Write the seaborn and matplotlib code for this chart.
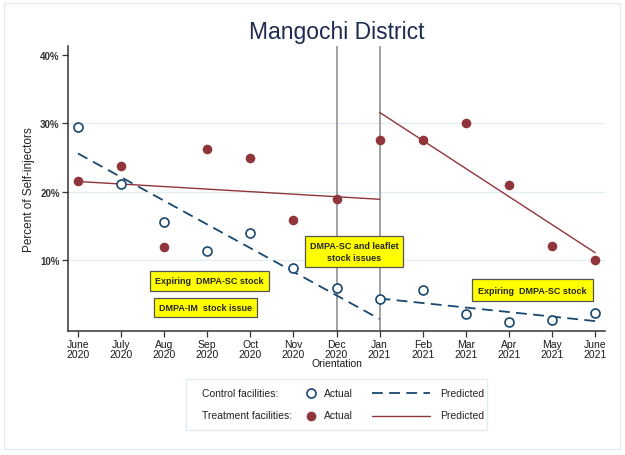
import pandas as pd
import matplotlib
matplotlib.use('Agg')
import matplotlib.pyplot as plt
from matplotlib.lines import Line2D
from matplotlib.patches import Rectangle
import seaborn as sns

# --- Data ---
months = ['June\n2020', 'July\n2020', 'Aug\n2020', 'Sep\n2020', 'Oct\n2020', 'Nov\n2020',
          'Dec\n2020\nOrientation', 'Jan\n2021', 'Feb\n2021', 'Mar\n2021', 'Apr\n2021',
          'May\n2021', 'June\n2021']
control_actual = [29.4, 21.2, 15.6, 11.4, 14.0, 8.8, 5.9, 4.3, 5.6, 2.1, 0.9, 1.2, 2.3]
treatment_actual = [21.5, 23.7, 11.9, 26.3, 24.9, 15.8, 18.9, 27.5, 27.6, 30.0, 21.0, 12.1, 10.0]

# predicted segments: month index of the ends, and values at those ends
seg_pre = [0, 7]
seg_post = [7, 12]
control_pred_pre = [25.6, 1.4]
control_pred_post = [4.4, 1.1]
treatment_pred_pre = [21.5, 18.9]
treatment_pred_post = [31.6, 11.1]
event_months = [6, 7]

NAVY = '#1a476f'
MAROON = '#90353b'
FONT = 'Liberation Sans'

W, H = 625, 456
def fx(px):
    return px / W
def fy(py):
    return 1 - py / H

sns.set_style('white')
plt.rcParams['font.family'] = [FONT, 'DejaVu Sans']

fig = plt.figure(figsize=(6.25, 4.56), dpi=100)
ax = fig.add_axes([fx(68), fy(332), fx(605) - fx(68), fy(47) - fy(332)])

# --- Long tables ---
idx = list(range(len(months)))
df_pts = pd.DataFrame({'m': idx * 2,
                       'val': control_actual + treatment_actual,
                       'grp': ['Control'] * len(idx) + ['Treatment'] * len(idx)})
df_pred = pd.DataFrame({
    'm': seg_pre + seg_post + seg_pre + seg_post,
    'val': control_pred_pre + control_pred_post + treatment_pred_pre + treatment_pred_post,
    'seg': ['c_pre'] * 2 + ['c_post'] * 2 + ['t_pre'] * 2 + ['t_post'] * 2,
})

for m in event_months:
    ax.axvline(m, color='#9a9a9a', lw=1.3, zorder=1)

for s, color, dash in [('c_pre', NAVY, True), ('c_post', NAVY, True),
                       ('t_pre', MAROON, False), ('t_post', MAROON, False)]:
    d = df_pred[df_pred['seg'] == s]
    line = sns.lineplot(data=d, x='m', y='val', ax=ax, color=color,
                        lw=1.3 if dash else 1.0, zorder=3)
    if dash:
        ax.lines[-1].set_dashes([6, 3.5])

sns.scatterplot(data=df_pts[df_pts['grp'] == 'Control'], x='m', y='val', ax=ax,
                s=42, facecolor='white', edgecolor=NAVY, linewidth=1.2, zorder=4)
sns.scatterplot(data=df_pts[df_pts['grp'] == 'Treatment'], x='m', y='val', ax=ax,
                s=48, color=MAROON, edgecolor=MAROON, linewidth=0, zorder=4)

# --- Axes styling ---
ax.set_xlim(-0.23, 12.23)
ax.set_ylim(-0.35, 41.3)
ax.set_xticks(idx)
ax.set_xticklabels(months, fontsize=7.5, linespacing=0.9, color='#1a1a1a')
ax.set_yticks([10, 20, 30, 40])
ax.set_yticklabels(['10%', '20%', '30%', '40%'], fontsize=7, fontweight='bold', color='#333333')
ax.set_xlabel('')
ax.set_ylabel('Percent of Self-injectors', fontsize=8.5, color='#222222', labelpad=4)
ax.tick_params(axis='both', direction='out', length=4, width=0.9, color='#333333', pad=2)
ax.tick_params(axis='both', bottom=True, left=True)
for y in [10, 20, 30]:
    ax.axhline(y, color='#e3eef1', lw=1.0, zorder=0)
sns.despine(ax=ax)
for sp in ['left', 'bottom']:
    ax.spines[sp].set_color('#333333')
    ax.spines[sp].set_linewidth(1.1)

# --- Annotation boxes ---
box = dict(boxstyle='square,pad=0.55', fc='#ffff00', ec='#555555', lw=0.9)
ax.text(3.05, 7.0, 'Expiring  DMPA-SC stock', ha='center', va='center', fontsize=6.5,
        fontweight='bold', bbox=dict(boxstyle='square,pad=0.6', fc='#ffff00', ec='#555555', lw=0.9),
        zorder=5)
ax.text(2.97, 3.1, 'DMPA-IM  stock issue', ha='center', va='center', fontsize=6.5,
        fontweight='bold', bbox=box, zorder=5)
ax.text(6.41, 11.3, 'DMPA-SC and leaflet\nstock issues', ha='center', va='center', fontsize=6.5,
        fontweight='bold', linespacing=1.5, bbox=dict(boxstyle='square,pad=0.5', fc='#ffff00',
        ec='#555555', lw=0.9), zorder=5)
ax.text(10.54, 5.6, 'Expiring  DMPA-SC stock', ha='center', va='center', fontsize=6.5,
        fontweight='bold', bbox=dict(boxstyle='square,pad=0.7', fc='#ffff00', ec='#555555', lw=0.9),
        zorder=5)

# --- Title ---
fig.text(fx(337), fy(33), 'Mangochi District', ha='center', va='center', fontsize=16.5,
         color='#1c2b4f')

# --- Outer frame ---
fig.patches.append(Rectangle((fx(4), fy(450)), fx(620) - fx(4), fy(4) - fy(450),
                             transform=fig.transFigure, fill=False, ec='#e2ebf0', lw=1.0))

# --- Legend (drawn by hand) ---
fig.patches.append(Rectangle((fx(186), fy(431)), fx(487) - fx(186), fy(380) - fy(431),
                             transform=fig.transFigure, fill=False, ec='#e2ebf0', lw=1.0))
rows = [(394, 'Control facilities:', dict(marker='o', ms=6.5, mfc='white', mec=NAVY, mew=1.2),
         dict(color=NAVY, lw=1.3, dashes=[6, 3.5])),
        (416.5, 'Treatment facilities:', dict(marker='o', ms=7, mfc=MAROON, mec=MAROON, mew=0),
         dict(color=MAROON, lw=1.0))]
for py, lab, mk, ln in rows:
    fig.text(fx(202), fy(py), lab, ha='left', va='center', fontsize=7.5, color='#222222')
    fig.lines.append(Line2D([fx(310.7)], [fy(py)], transform=fig.transFigure, ls='none', **mk))
    fig.text(fx(324), fy(py), 'Actual', ha='left', va='center', fontsize=7.5, color='#222222')
    fig.lines.append(Line2D([fx(372), fx(430)], [fy(py), fy(py)], transform=fig.transFigure, **ln))
    fig.text(fx(440), fy(py), 'Predicted', ha='left', va='center', fontsize=7.5, color='#222222')

fig.savefig('out.png', dpi=100, facecolor='white')
